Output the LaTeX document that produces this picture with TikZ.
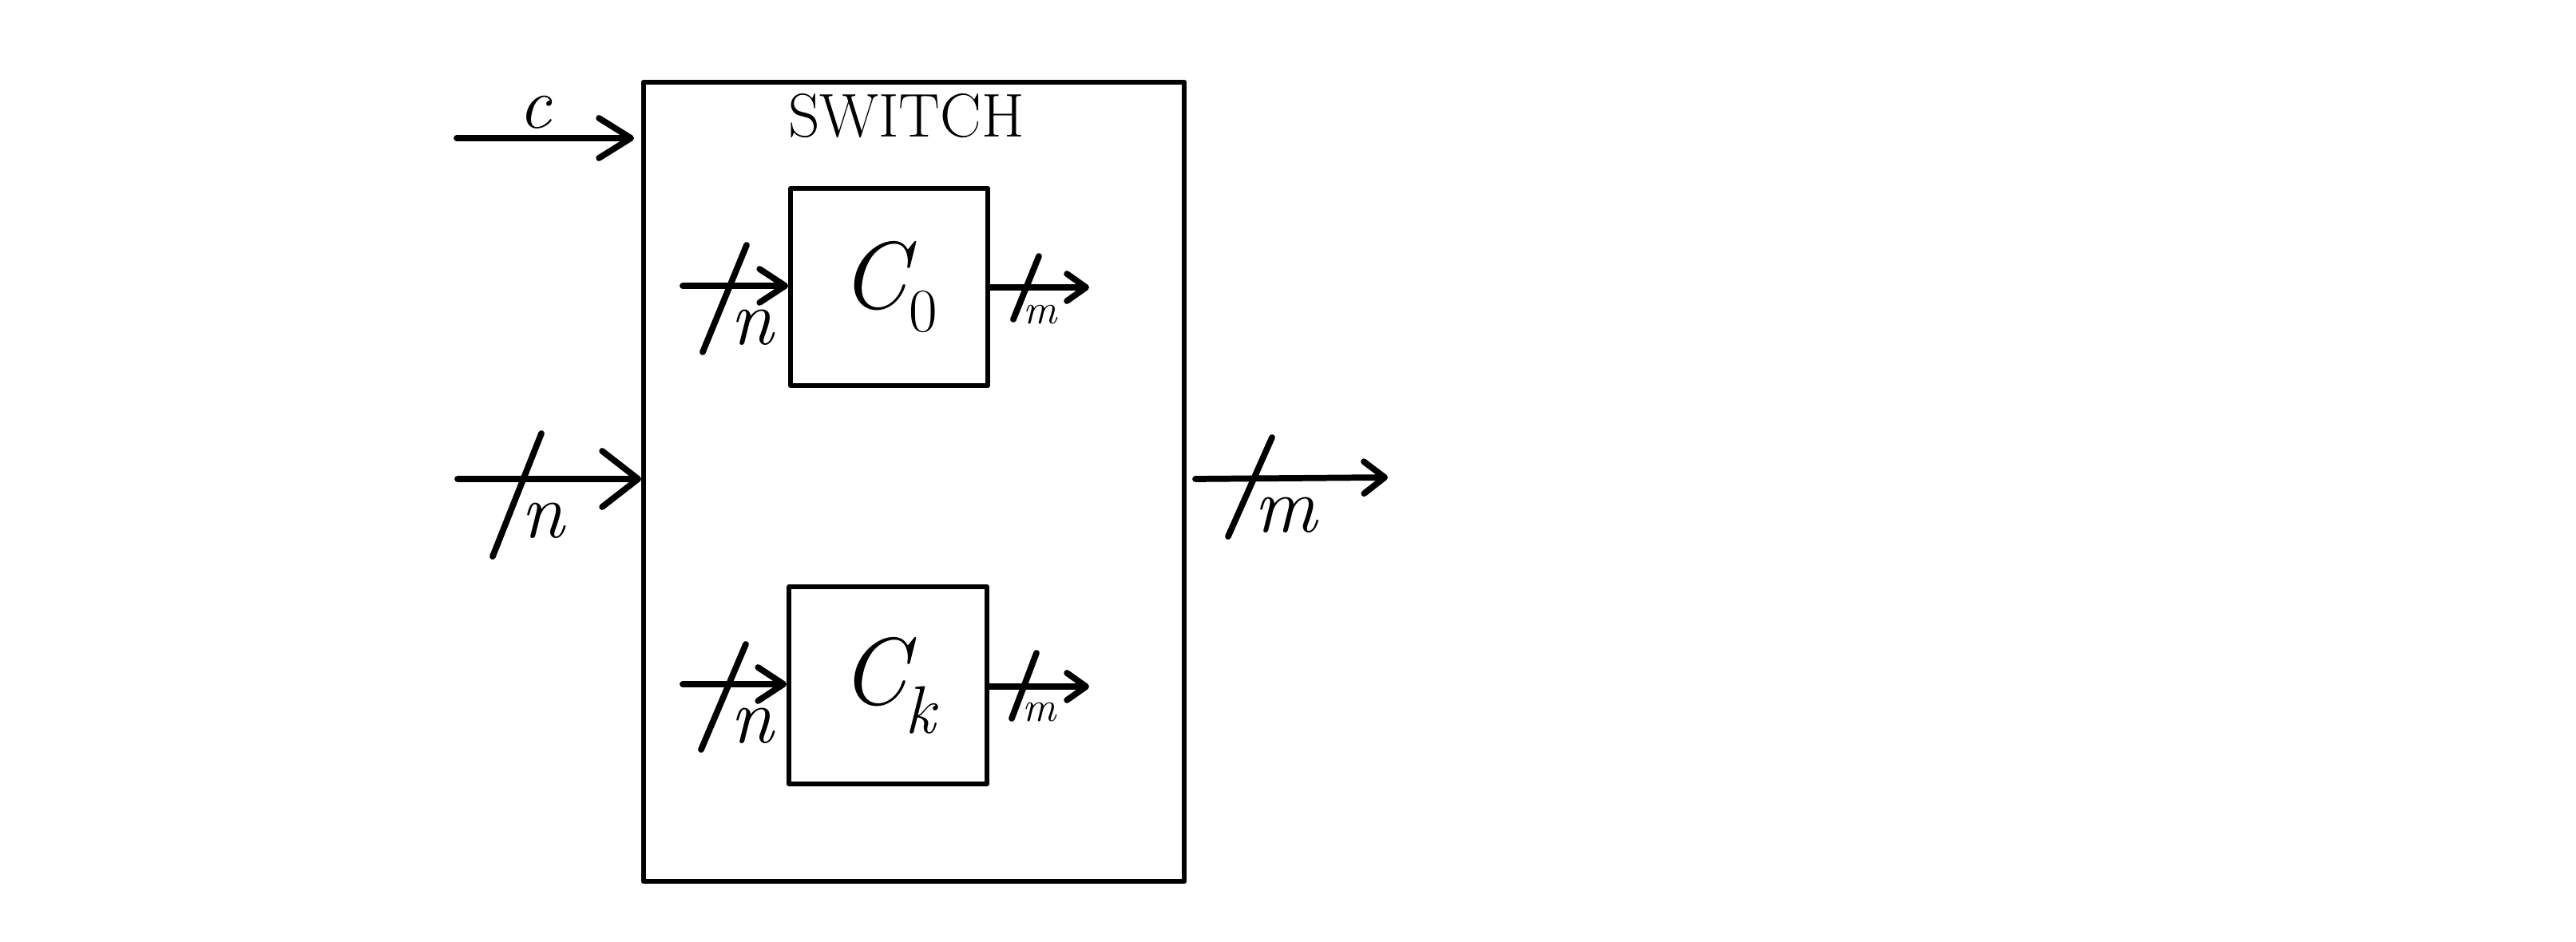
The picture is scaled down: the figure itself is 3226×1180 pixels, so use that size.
\documentclass[tikz,border=0pt]{standalone}
\usetikzlibrary{arrows.meta,calc}
\begin{document}
\begin{tikzpicture}[x=0.01cm,y=-0.01cm,
  frame/.style={draw, line width=1.6pt, rectangle, inner sep=0pt, line join=round},
  wire/.style={line width=2.2pt, line cap=round, line join=round},
  slash/.style={line width=2.2pt, line cap=round},
  bigtip/.style={-{Straight Barb[round,length=4.5mm,width=7mm]}},
  ctip/.style={-{Straight Barb[round,length=4mm,width=5mm]}},
  intip/.style={-{Straight Barb[round,length=3.2mm,width=4.2mm]}},
  outtip/.style={-{Straight Barb[round,length=2.4mm,width=3.4mm]}},
  mtip/.style={-{Straight Barb[round,length=2.6mm,width=4mm]}},
  lab/.style={inner sep=0pt, font=\fontsize{28}{30}\selectfont\itshape},
  smalllab/.style={inner sep=0pt, font=\fontsize{15}{16}\selectfont\itshape},
  boxlab/.style={font=\fontsize{34}{36}\selectfont}
]
\useasboundingbox (0,0) rectangle (3226,1180);
\fill[white] (0,0) rectangle (3226,1180);

% boxes
\node[frame, boxlab, minimum width=6.77cm, minimum height=10.01cm] (outer) at (1144.5,603.5) {};
\node[frame, boxlab, minimum width=2.47cm, minimum height=2.47cm] (c0) at (1113.5,359.5)
  {\textit{C}\kern-0.08em\raisebox{-0.25em}{\fontsize{22}{24}\selectfont 0}};
\node[frame, boxlab, minimum width=2.48cm, minimum height=2.47cm] (ck) at (1112,858.5)
  {\textit{C}\kern-0.12em\raisebox{-0.3em}{\fontsize{24}{26}\selectfont\itshape k}};
\node[anchor=north, inner sep=0pt, font=\fontsize{22}{24}\selectfont] (title) at (1135,117) {SWITCH};

% connector end points
\coordinate (cin) at (572,173);
\coordinate (nin) at (573,600);
\coordinate (c0in) at (855,358);
\coordinate (c0out) at (1364,360);
\coordinate (ckin) at (855,857);
\coordinate (ckout) at (1364,860);
\coordinate (mstart) at (1497,600);
\coordinate (mout) at (1738,598);

% connectors
\draw[wire, ctip] (cin) -- ([xshift=-0.09cm]cin -| outer.west);
\draw[wire, bigtip] (nin) -- (nin -| outer.west);
\draw[wire, intip] (c0in) -- (c0in -| c0.west);
\draw[wire, outtip] (c0out -| c0.east) -- (c0out);
\draw[wire, intip] (ckin) -- (ckin -| ck.west);
\draw[wire, outtip] (ckout -| ck.east) -- (ckout);
\draw[wire, mtip] (mstart) -- (mout);

% bus slashes
\draw[slash] (678,543) -- (617,697);
\draw[slash] (935,307) -- (880,441);
\draw[slash] (1301,321) -- (1269,400);
\draw[slash] (934,807) -- (878,939);
\draw[slash] (1298,818) -- (1267,900);
\draw[slash] (1593,548) -- (1538,672);

% labels
\node[lab, font=\fontsize{26}{28}\selectfont\itshape] (lc) at (670,141) {c};
\node[lab] (ln) at (680,652) {n};
\node[lab] (ln0) at (942,410) {n};
\node[lab] (lnk) at (942,909) {n};
\node[smalllab] (lm0) at (1303,394) {m};
\node[smalllab] (lmk) at (1302,892) {m};
\node[lab] (lm) at (1610,645) {m};
\end{tikzpicture}
\end{document}
